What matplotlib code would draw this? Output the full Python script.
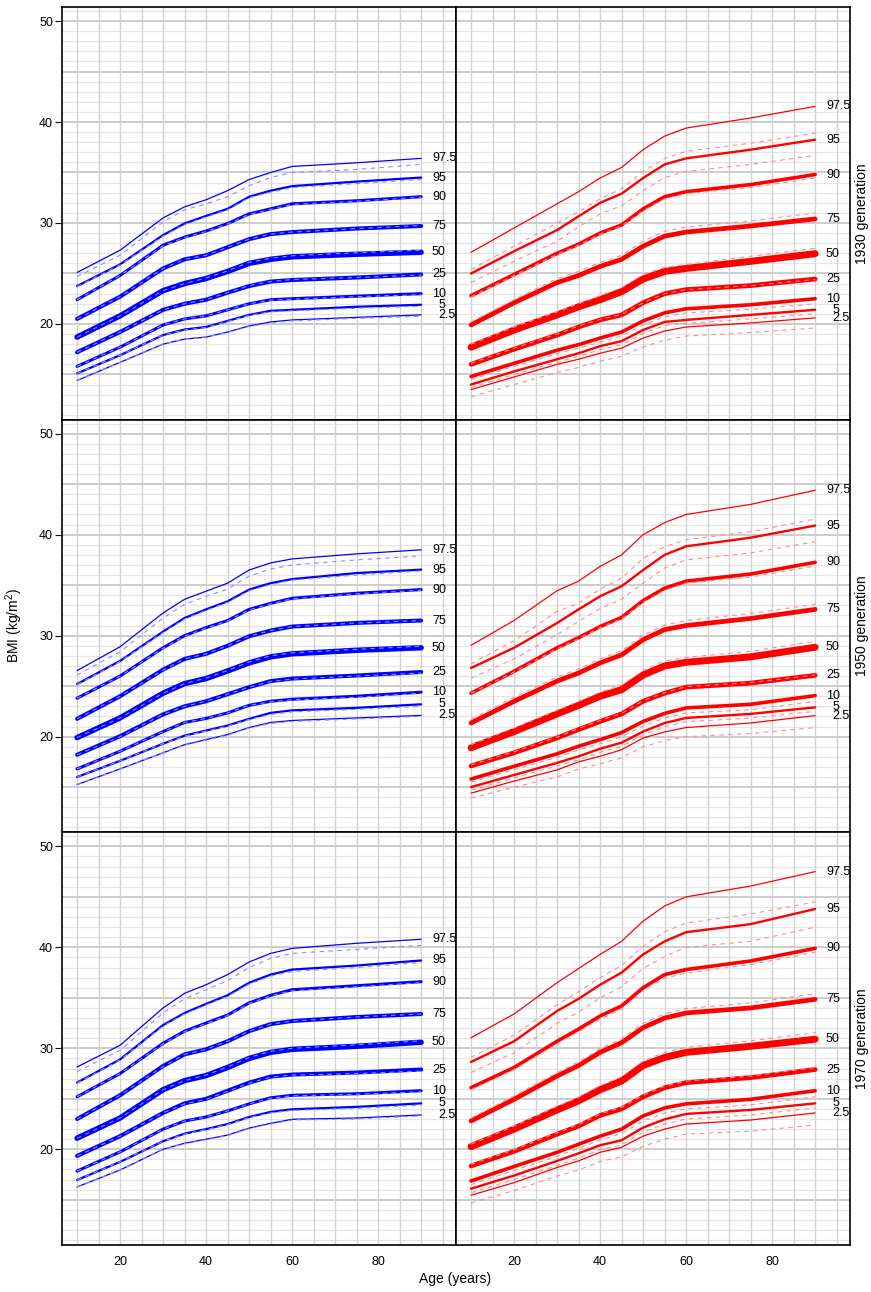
import matplotlib
matplotlib.use('Agg')
import matplotlib.pyplot as plt

plt.rcParams['font.family'] = ['Liberation Sans', 'DejaVu Sans']
plt.rcParams['mathtext.default'] = 'regular'

ages = [10, 20, 30, 35, 40, 45, 50, 55, 60, 75, 90]
centiles = ['97.5', '95', '90', '75', '50', '25', '10', '5', '2.5']
generations = ['1930 generation', '1950 generation', '1970 generation']

# ---- men (blue), solid = fitted, dashed = comparison ----
blue_1930 = [
    [25.1, 27.3, 30.5, 31.6, 32.3, 33.2, 34.3, 35.0, 35.6, 35.96, 36.4],
    [23.75, 25.9, 28.8, 29.95, 30.7, 31.4, 32.6, 33.2, 33.65, 34.1, 34.5],
    [22.4, 24.8, 27.8, 28.6, 29.2, 29.95, 30.9, 31.4, 31.9, 32.2, 32.6],
    [20.5, 22.7, 25.5, 26.4, 26.8, 27.6, 28.4, 28.9, 29.1, 29.45, 29.7],
    [18.7, 20.8, 23.3, 24.0, 24.5, 25.2, 26.0, 26.4, 26.65, 26.9, 27.1],
    [17.2, 19.2, 21.4, 22.0, 22.4, 23.1, 23.75, 24.2, 24.35, 24.6, 24.9],
    [15.8, 17.7, 19.9, 20.5, 20.8, 21.4, 22.0, 22.4, 22.5, 22.75, 23.0],
    [15.1, 16.9, 18.9, 19.45, 19.7, 20.3, 20.9, 21.3, 21.4, 21.7, 21.9],
    [14.4, 16.2, 18.0, 18.5, 18.7, 19.2, 19.8, 20.2, 20.4, 20.65, 20.9],
]
blue_1930_dash = [
    [24.7, 26.8, 30.1, 31.3, 31.9, 32.6, 33.7, 34.5, 35.0, 35.3, 35.8],
    [23.7, 25.85, 28.7, 29.85, 30.6, 31.3, 32.5, 33.05, 33.5, 33.9, 34.3],
    [22.4, 24.8, 27.75, 28.55, 29.15, 29.9, 30.85, 31.35, 31.85, 32.15, 32.55],
    [20.5, 22.7, 25.5, 26.4, 26.8, 27.6, 28.4, 28.9, 29.1, 29.45, 29.75],
    [18.7, 20.8, 23.3, 24.0, 24.55, 25.25, 26.1, 26.5, 26.75, 27.05, 27.3],
    [17.2, 19.2, 21.4, 22.0, 22.4, 23.1, 23.8, 24.2, 24.4, 24.6, 24.85],
    [15.8, 17.7, 19.9, 20.5, 20.8, 21.4, 22.0, 22.35, 22.45, 22.7, 22.9],
    [15.1, 16.9, 18.9, 19.4, 19.65, 20.25, 20.85, 21.2, 21.3, 21.55, 21.75],
    [14.4, 16.2, 18.0, 18.5, 18.7, 19.15, 19.75, 20.1, 20.3, 20.55, 20.75],
]
blue_1950 = [
    [26.54, 28.9, 32.25, 33.6, 34.4, 35.2, 36.5, 37.2, 37.6, 38.1, 38.5],
    [25.2, 27.5, 30.4, 31.75, 32.6, 33.4, 34.56, 35.2, 35.6, 36.2, 36.54],
    [23.8, 26.0, 28.8, 30.0, 30.8, 31.5, 32.6, 33.2, 33.7, 34.2, 34.56],
    [21.76, 24.0, 26.64, 27.7, 28.2, 29.0, 29.94, 30.5, 30.9, 31.26, 31.5],
    [19.9, 21.85, 24.3, 25.25, 25.75, 26.5, 27.3, 27.9, 28.2, 28.55, 28.8],
    [18.2, 20.04, 22.2, 23.0, 23.5, 24.2, 24.9, 25.5, 25.75, 26.05, 26.4],
    [16.8, 18.55, 20.5, 21.4, 21.8, 22.35, 23.1, 23.5, 23.7, 24.0, 24.4],
    [16.0, 17.6, 19.3, 20.1, 20.6, 21.1, 21.76, 22.35, 22.6, 22.85, 23.2],
    [15.25, 16.8, 18.4, 19.2, 19.7, 20.2, 20.9, 21.4, 21.6, 21.85, 22.1],
]
blue_1950_dash = [
    [26.1, 28.4, 31.75, 33.1, 33.9, 34.6, 35.9, 36.6, 37.0, 37.5, 37.9],
    [25.15, 27.45, 30.3, 31.65, 32.5, 33.3, 34.45, 35.05, 35.5, 36.0, 36.4],
    [23.8, 26.0, 28.75, 29.95, 30.75, 31.45, 32.55, 33.15, 33.65, 34.15, 34.5],
    [21.76, 24.0, 26.6, 27.7, 28.2, 29.0, 29.95, 30.5, 30.9, 31.25, 31.5],
    [19.9, 21.85, 24.3, 25.25, 25.8, 26.55, 27.4, 28.0, 28.3, 28.65, 28.95],
    [18.2, 20.0, 22.2, 23.0, 23.5, 24.2, 24.9, 25.45, 25.7, 26.0, 26.3],
    [16.8, 18.55, 20.5, 21.4, 21.8, 22.35, 23.1, 23.45, 23.65, 23.9, 24.3],
    [16.0, 17.6, 19.3, 20.05, 20.55, 21.05, 21.7, 22.2, 22.45, 22.7, 23.0],
    [15.25, 16.8, 18.4, 19.15, 19.65, 20.15, 20.85, 21.3, 21.5, 21.75, 22.0],
]
blue_1970 = [
    [28.15, 30.3, 34.0, 35.45, 36.3, 37.3, 38.55, 39.4, 39.9, 40.4, 40.8],
    [26.6, 28.9, 32.3, 33.5, 34.4, 35.25, 36.5, 37.3, 37.8, 38.2, 38.7],
    [25.2, 27.5, 30.5, 31.7, 32.5, 33.3, 34.5, 35.25, 35.8, 36.2, 36.6],
    [23.0, 25.35, 28.25, 29.4, 29.9, 30.7, 31.7, 32.4, 32.7, 33.1, 33.4],
    [21.1, 23.1, 25.9, 26.8, 27.3, 28.1, 29.0, 29.6, 29.9, 30.2, 30.6],
    [19.34, 21.3, 23.6, 24.55, 25.0, 25.8, 26.6, 27.2, 27.4, 27.6, 27.9],
    [17.85, 19.74, 22.0, 22.8, 23.2, 23.8, 24.5, 25.1, 25.35, 25.5, 25.8],
    [16.96, 18.75, 20.8, 21.55, 22.0, 22.5, 23.2, 23.7, 23.96, 24.2, 24.55],
    [16.27, 17.95, 20.0, 20.6, 21.0, 21.4, 22.1, 22.57, 22.97, 23.1, 23.4],
]
blue_1970_dash = [
    [27.7, 29.8, 33.5, 34.9, 35.8, 36.7, 38.0, 38.9, 39.4, 39.8, 40.2],
    [26.55, 28.85, 32.2, 33.4, 34.3, 35.15, 36.35, 37.15, 37.6, 38.0, 38.5],
    [25.2, 27.5, 30.45, 31.65, 32.45, 33.25, 34.45, 35.2, 35.7, 36.1, 36.5],
    [23.0, 25.35, 28.2, 29.4, 29.9, 30.7, 31.7, 32.4, 32.7, 33.1, 33.4],
    [21.1, 23.1, 25.9, 26.8, 27.35, 28.15, 29.1, 29.7, 30.0, 30.35, 30.75],
    [19.34, 21.3, 23.6, 24.5, 24.95, 25.75, 26.55, 27.15, 27.35, 27.5, 27.75],
    [17.85, 19.74, 22.0, 22.8, 23.2, 23.8, 24.5, 25.05, 25.3, 25.45, 25.7],
    [16.96, 18.75, 20.8, 21.5, 21.95, 22.45, 23.15, 23.6, 23.85, 24.05, 24.35],
    [16.27, 17.95, 20.0, 20.55, 20.95, 21.35, 22.05, 22.5, 22.9, 23.0, 23.3],
]

# ---- women (red) ----
red_1930 = [
    [27.1, 29.5, 31.9, 33.1, 34.45, 35.5, 37.26, 38.6, 39.4, 40.4, 41.55],
    [25.0, 27.2, 29.3, 30.66, 32.0, 32.9, 34.45, 35.8, 36.4, 37.26, 38.25],
    [22.8, 24.9, 27.0, 27.9, 29.0, 29.8, 31.4, 32.6, 33.1, 33.8, 34.8],
    [19.9, 22.1, 24.1, 24.8, 25.7, 26.4, 27.7, 28.7, 29.1, 29.7, 30.4],
    [17.7, 19.4, 20.9, 21.7, 22.4, 23.2, 24.45, 25.2, 25.5, 26.2, 26.96],
    [16.0, 17.5, 18.9, 19.7, 20.4, 20.9, 22.1, 23.0, 23.4, 23.8, 24.45],
    [14.8, 16.1, 17.4, 17.95, 18.6, 19.2, 20.3, 21.1, 21.5, 21.9, 22.5],
    [14.0, 15.3, 16.5, 17.1, 17.8, 18.3, 19.4, 20.2, 20.4, 20.9, 21.4],
    [13.5, 14.75, 16.0, 16.5, 17.1, 17.6, 18.6, 19.3, 19.7, 20.1, 20.6],
]
red_1930_dash = [
    [25.4, 27.7, 30.0, 31.1, 32.4, 33.4, 35.1, 36.4, 37.1, 37.9, 38.9],
    [24.1, 26.2, 28.2, 29.6, 30.9, 31.7, 33.2, 34.5, 35.1, 35.8, 36.7],
    [22.7, 24.8, 26.9, 27.8, 28.9, 29.7, 31.2, 32.4, 32.9, 33.5, 34.45],
    [20.2, 22.4, 24.5, 25.2, 26.1, 26.8, 28.2, 29.2, 29.6, 30.2, 31.0],
    [18.0, 19.7, 21.2, 22.0, 22.8, 23.6, 24.9, 25.6, 25.9, 26.7, 27.5],
    [16.1, 17.6, 19.0, 19.8, 20.45, 20.95, 22.1, 23.0, 23.4, 23.8, 24.4],
    [14.5, 15.8, 17.05, 17.6, 18.2, 18.8, 19.9, 20.7, 21.1, 21.45, 22.0],
    [13.7, 15.0, 16.2, 16.8, 17.45, 17.95, 19.05, 19.85, 20.05, 20.5, 21.0],
    [12.8, 14.0, 15.2, 15.7, 16.3, 16.8, 17.7, 18.4, 18.8, 19.15, 19.6],
]
red_1950 = [
    [29.04, 31.5, 34.45, 35.4, 36.86, 38.0, 40.0, 41.2, 42.0, 43.0, 44.4],
    [26.8, 28.8, 31.25, 32.6, 33.9, 34.9, 36.5, 38.0, 38.85, 39.7, 40.9],
    [24.3, 26.47, 28.8, 29.8, 30.9, 31.8, 33.47, 34.7, 35.4, 36.1, 37.26],
    [21.35, 23.5, 25.5, 26.3, 27.3, 28.1, 29.6, 30.6, 31.0, 31.7, 32.6],
    [18.9, 20.5, 22.25, 23.1, 24.0, 24.65, 26.1, 27.0, 27.36, 27.9, 28.85],
    [17.1, 18.4, 19.87, 20.7, 21.5, 22.25, 23.5, 24.3, 24.9, 25.3, 26.07],
    [15.8, 17.06, 18.3, 19.05, 19.7, 20.4, 21.5, 22.3, 22.84, 23.2, 24.06],
    [15.0, 16.2, 17.4, 18.05, 18.8, 19.4, 20.5, 21.35, 21.85, 22.25, 22.9],
    [14.4, 15.6, 16.7, 17.5, 18.05, 18.7, 19.87, 20.46, 20.9, 21.35, 22.08],
]
red_1950_dash = [
    [27.2, 29.5, 32.4, 33.2, 34.6, 35.7, 37.65, 38.8, 39.5, 40.3, 41.55],
    [25.8, 27.7, 30.1, 31.4, 32.7, 33.6, 35.2, 36.7, 37.5, 38.2, 39.3],
    [24.3, 26.4, 28.7, 29.7, 30.8, 31.65, 33.3, 34.5, 35.2, 35.8, 36.9],
    [21.7, 23.9, 25.9, 26.7, 27.7, 28.5, 30.05, 31.05, 31.5, 32.2, 33.1],
    [19.2, 20.85, 22.6, 23.5, 24.4, 25.1, 26.55, 27.5, 27.85, 28.45, 29.45],
    [17.2, 18.5, 19.95, 20.8, 21.6, 22.3, 23.55, 24.35, 24.95, 25.35, 26.1],
    [15.5, 16.73, 17.94, 18.67, 19.3, 19.98, 21.05, 21.83, 22.35, 22.66, 23.5],
    [14.7, 15.9, 17.1, 17.7, 18.45, 19.05, 20.15, 20.98, 21.47, 21.85, 22.5],
    [13.9, 15.0, 16.0, 16.8, 17.3, 17.9, 19.0, 19.6, 20.0, 20.3, 20.9],
]
red_1970 = [
    [31.05, 33.4, 36.5, 37.9, 39.3, 40.6, 42.6, 44.1, 45.0, 46.07, 47.5],
    [28.65, 30.7, 33.7, 34.9, 36.3, 37.5, 39.3, 40.6, 41.5, 42.3, 43.8],
    [26.1, 28.1, 30.7, 31.9, 33.2, 34.2, 36.0, 37.3, 37.8, 38.65, 39.9],
    [22.8, 24.95, 27.26, 28.3, 29.6, 30.56, 32.05, 33.0, 33.5, 34.0, 34.85],
    [20.26, 22.0, 23.9, 24.8, 25.9, 26.76, 28.3, 29.1, 29.6, 30.2, 30.9],
    [18.35, 19.8, 21.5, 22.3, 23.36, 24.0, 25.2, 26.1, 26.6, 27.1, 27.9],
    [16.86, 18.3, 19.7, 20.5, 21.3, 22.0, 23.3, 24.1, 24.5, 24.95, 25.8],
    [16.1, 17.4, 18.85, 19.6, 20.4, 20.9, 22.15, 22.97, 23.5, 23.9, 24.55],
    [15.45, 16.7, 18.2, 18.85, 19.7, 20.2, 21.3, 22.0, 22.5, 22.9, 23.6],
]
red_1970_dash = [
    [29.1, 31.3, 34.3, 35.6, 37.0, 38.2, 40.1, 41.55, 42.4, 43.3, 44.5],
    [27.6, 29.56, 32.46, 33.6, 35.0, 36.1, 37.9, 39.1, 40.0, 40.6, 42.0],
    [25.9, 27.9, 30.45, 31.65, 32.9, 33.9, 35.7, 36.95, 37.45, 38.3, 39.5],
    [23.1, 25.3, 27.6, 28.65, 29.97, 30.94, 32.47, 33.43, 33.94, 34.5, 35.4],
    [20.5, 22.3, 24.25, 25.15, 26.3, 27.2, 28.75, 29.6, 30.1, 30.75, 31.55],
    [18.5, 19.95, 21.65, 22.45, 23.5, 24.15, 25.35, 26.25, 26.75, 27.25, 28.1],
    [16.5, 17.9, 19.3, 20.1, 20.9, 21.55, 22.8, 23.6, 24.0, 24.4, 25.2],
    [15.7, 17.0, 18.4, 19.15, 19.95, 20.45, 21.7, 22.5, 23.0, 23.4, 24.1],
    [14.7, 15.9, 17.35, 17.95, 18.8, 19.25, 20.3, 21.0, 21.5, 21.8, 22.4],
]

panels = [
    [(blue_1930, blue_1930_dash), (red_1930, red_1930_dash)],
    [(blue_1950, blue_1950_dash), (red_1950, red_1950_dash)],
    [(blue_1970, blue_1970_dash), (red_1970, red_1970_dash)],
]

colors = ['#0000ff', '#ff0000']
dash_colors = ['#8c8cff', '#ff8c8c']
widths = [
    [0.9, 1.6, 2.2, 2.9, 3.9, 2.9, 2.2, 1.6, 0.9],
    [0.9, 1.7, 2.6, 3.4, 5.0, 3.4, 2.6, 1.7, 0.9],
]

W, H = 871, 1292
fig = plt.figure(figsize=(W / 100, H / 100), dpi=100)
x0, pw = 62 / W, 394 / W
y_top, rh = 7 / H, 412.67 / H

for r in range(3):
    for c in range(2):
        ax = fig.add_axes([x0 + c * pw, 1 - y_top - (r + 1) * rh, pw, rh])
        ax.set_xlim(6.5, 98.1)
        ax.set_ylim(10.52, 51.39)

        # background grid
        for y in range(11, 52):
            if y % 5 == 0:
                ax.axhline(y, color='#c8c8c8', lw=1.3, zorder=0)
            else:
                ax.axhline(y, color='#e6e6e6', lw=0.9, zorder=0)
        for x in range(10, 100, 5):
            ax.axvline(x, color='#d2d2d2', lw=1.0, zorder=0)

        solid, dash = panels[r][c]
        for i, lab in enumerate(centiles):
            ax.plot(ages, solid[i], color=colors[c], lw=widths[c][i],
                    solid_capstyle='round', solid_joinstyle='round', zorder=2)
        for i, lab in enumerate(centiles):
            ax.plot(ages, dash[i], color=dash_colors[c], lw=0.8,
                    dashes=(4, 4), zorder=3)
        for i, lab in enumerate(centiles):
            lx = 94.1 if lab in ('5', '2.5') else 92.5
            ax.text(lx, solid[i][-1], lab, fontsize=9, ha='left', va='center',
                    clip_on=False, zorder=4)

        for s in ax.spines.values():
            s.set_linewidth(1.2)
        if c == 0:
            ax.set_yticks([20, 30, 40, 50])
            ax.tick_params(axis='y', length=5, width=0.8, pad=1.5, labelsize=9)
        else:
            ax.set_yticks([])
            ax.text(1.031, 0.5, generations[r], transform=ax.transAxes,
                    rotation=90, ha='center', va='center', fontsize=10)
        if r == 2:
            ax.set_xticks([20, 40, 60, 80])
            ax.tick_params(axis='x', length=0, pad=8, labelsize=9)
        else:
            ax.set_xticks([])

fig.text(455 / W, 1 - 1279 / H, 'Age (years)', ha='center', va='center', fontsize=10)
fig.text(14 / W, 1 - 626 / H, 'BMI (kg/m$^2$)', ha='center', va='center',
         rotation=90, fontsize=10)

fig.savefig('out.png', dpi=100)
